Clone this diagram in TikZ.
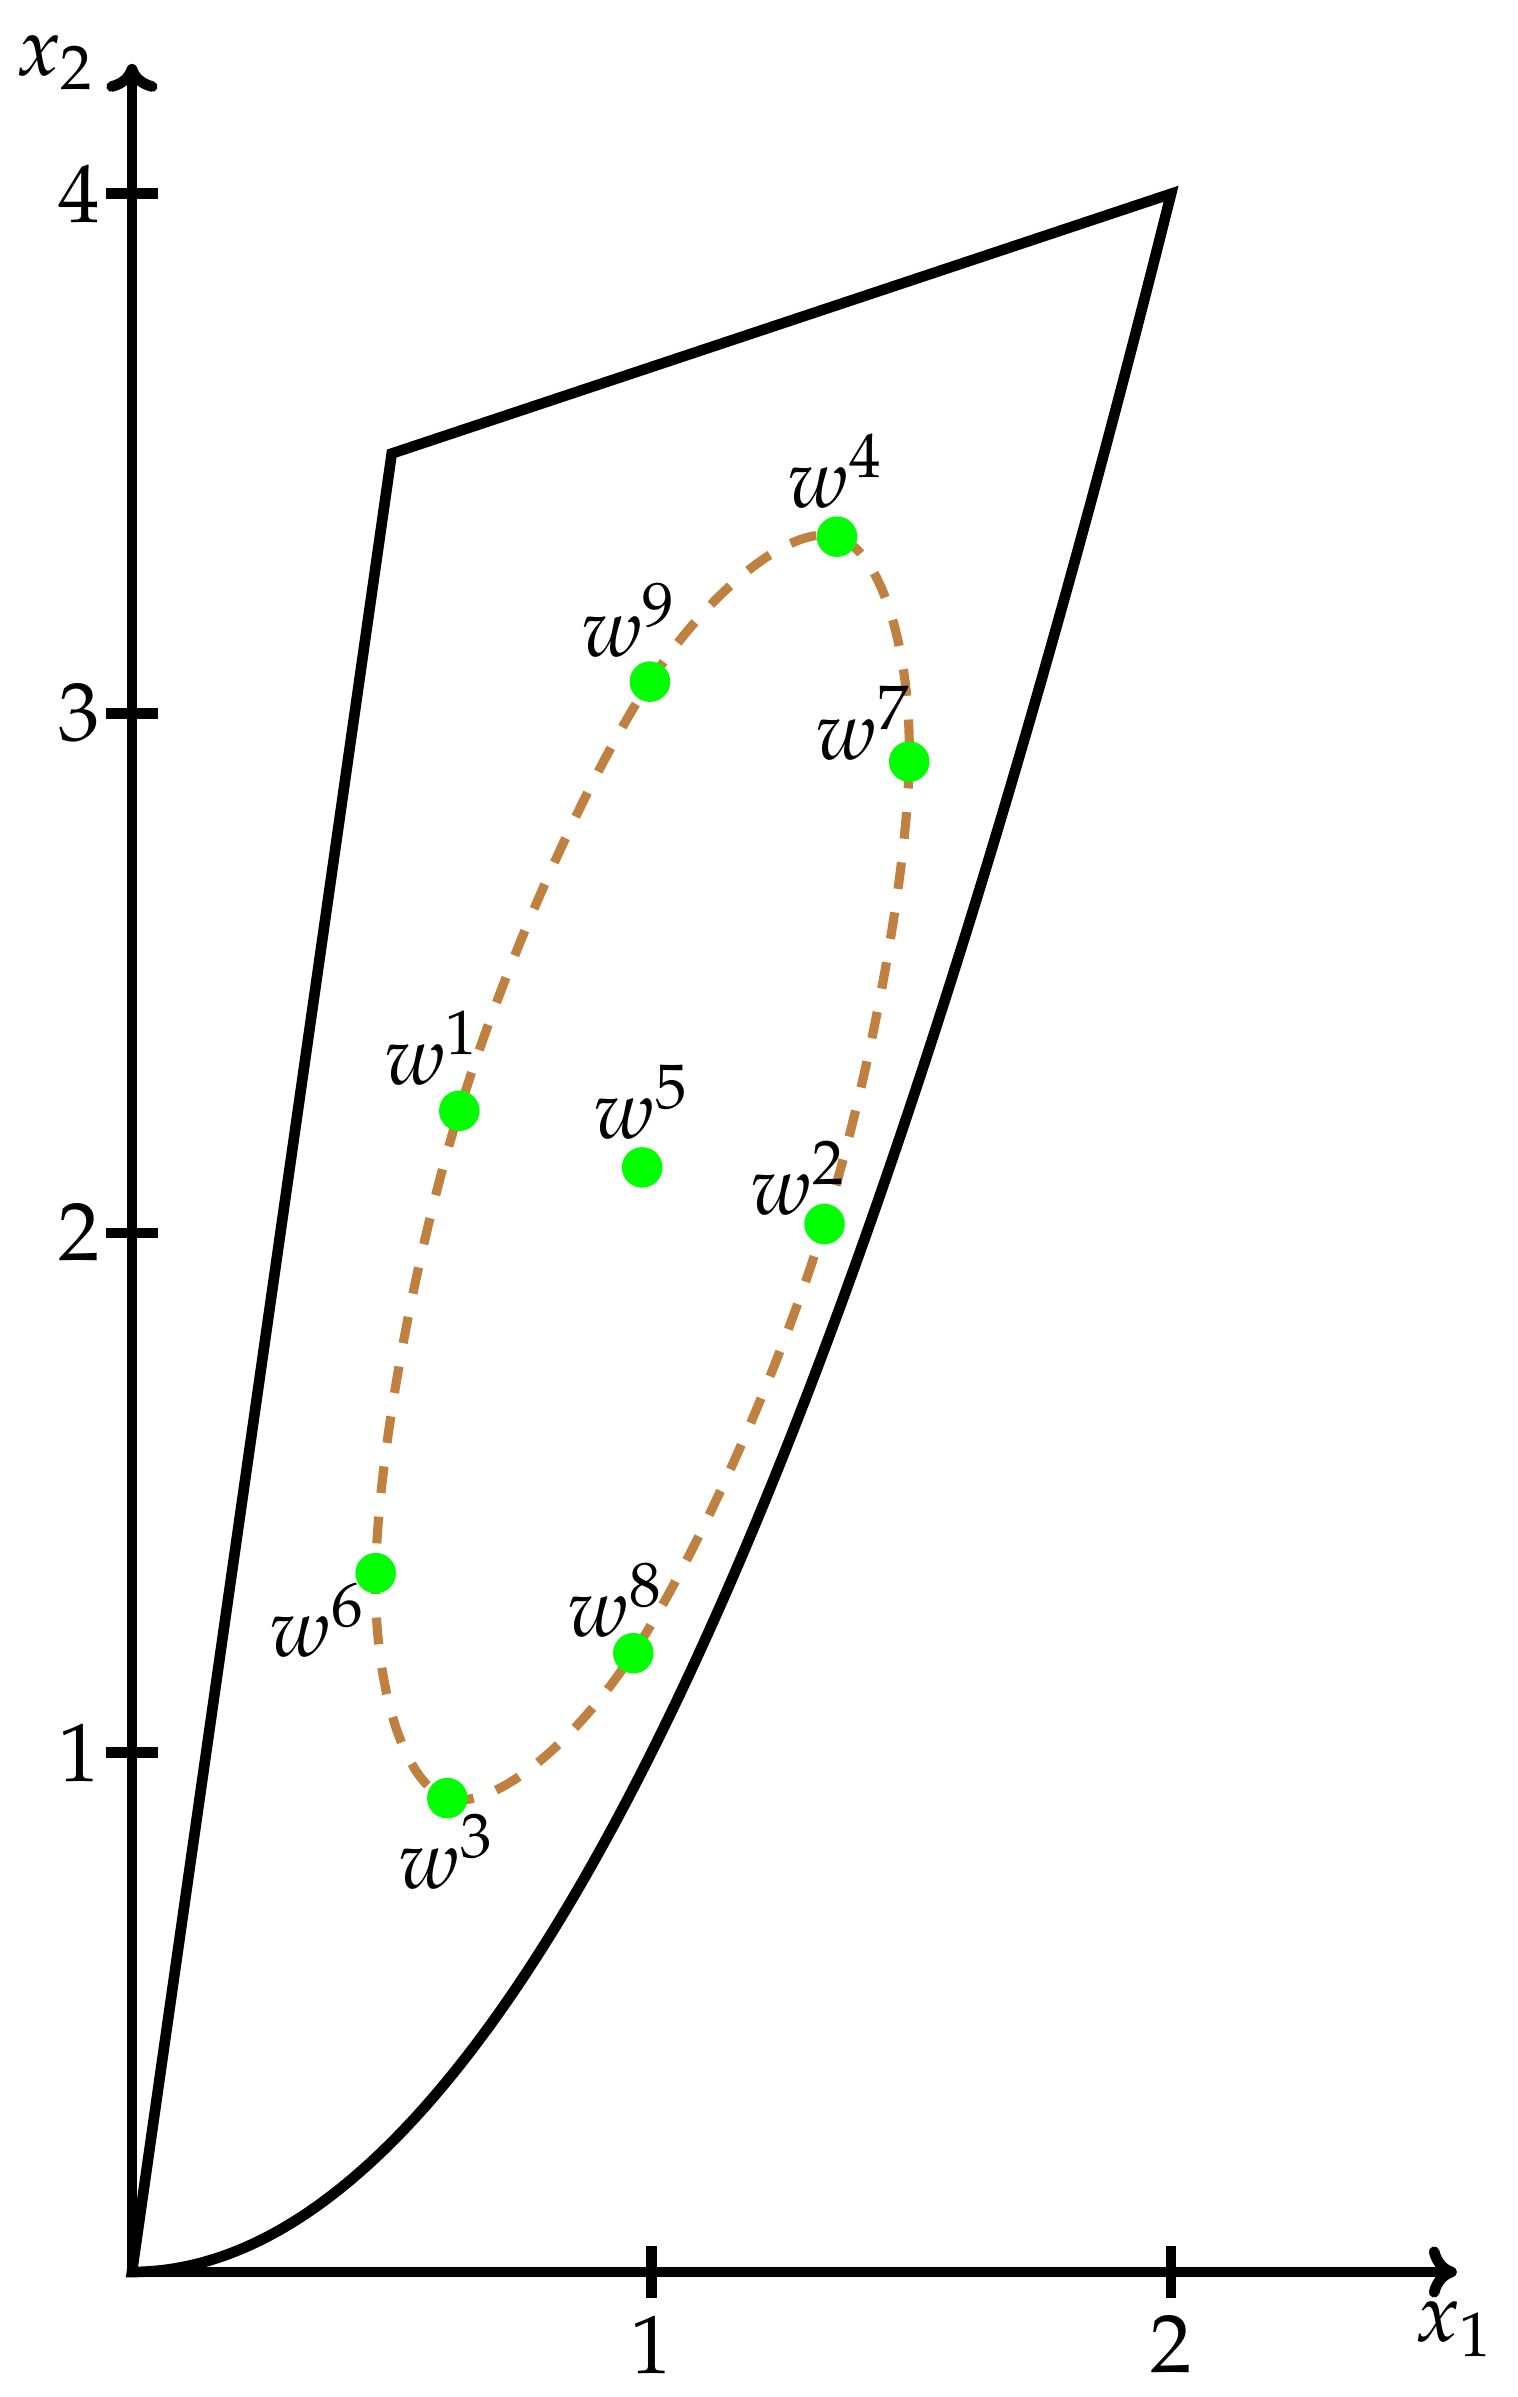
\documentclass[tikz,border=0pt]{standalone}
\usepackage[T1]{fontenc}
\usepackage{mathpazo}
\usetikzlibrary{arrows.meta}
\begin{document}
\begin{tikzpicture}[x=3cm,y=3cm,
  axis/.style={line width=1.75pt},
  tick/.style={line width=1.75pt},
  bnd/.style={line width=1.75pt, line join=miter},
  dot/.style={circle, fill=green, inner sep=0pt, minimum size=0.234cm},
  lbl/.style={font=\fontsize{13.6}{16}\selectfont, inner sep=0pt, anchor=base},
  num/.style={font=\fontsize{13.6}{16}\selectfont, inner sep=0pt},
  ell/.style={brown, line width=1.5pt, dash pattern=on 4.4pt off 3.9pt}]
\useasboundingbox (-0.254,-0.2406) rectangle (2.666,4.373);
% region
\coordinate (O) at (0,0);
\coordinate (A) at (0.5,3.5);
\coordinate (B) at (2,4);
\draw[bnd] (O) -- (A) -- (B) .. controls (1.33333,1.33333) and (0.66667,0) .. cycle;
% axes
\coordinate (xend) at (2.55,0);
\coordinate (yend) at (0,4.25);
\draw[axis,-{To[length=4.6pt,width=8.4pt]}] (O) -- (xend);
\draw[axis,-{To[length=4.6pt,width=8.4pt]}] (O) -- (yend);
\foreach \i in {1,2} {
  \draw[tick] (\i,-0.05) -- (\i,0.05);
  \node[num, anchor=north] (xt\i) at ([yshift=-2.7pt]\i,-0.05) {$\i$};
}
\foreach \i in {1,2,3,4} {
  \draw[tick] (-0.05,\i) -- (0.05,\i);
  \node[num, anchor=east] (yt\i) at ([xshift=-0.8pt]-0.05,\i) {$\i$};
}
\node[num, anchor=north] (xlab) at ([yshift=-4.6pt]2.546,0) {$x_1$};
\node[num, anchor=east] (ylab) at (-0.068,4.252) {$x_2$};
% points
\coordinate (p1) at (0.630,2.235);
\coordinate (p2) at (1.333,2.017);
\coordinate (p3) at (0.607,0.912);
\coordinate (p4) at (1.357,3.340);
\coordinate (p5) at (0.982,2.126);
\coordinate (p6) at (0.469,1.345);
\coordinate (p7) at (1.496,2.907);
\coordinate (p8) at (0.965,1.191);
\coordinate (p9) at (0.997,3.061);
\draw[ell] plot[smooth cycle, tension=0.6] coordinates {(p4) (p7) (p2) (p8) (p3) (p6) (p1) (p9)};
\foreach \i in {1,...,9} { \node[dot] (w\i) at (p\i) {}; }
% labels
\node[lbl] (l1) at (0.578,2.285) {$w^1$};
\node[lbl] (l2) at (1.283,2.035) {$w^2$};
\node[lbl] (l3) at (0.606,0.739) {$w^3$};
\node[lbl] (l4) at (1.355,3.396) {$w^4$};
\node[lbl] (l5) at (0.981,2.182) {$w^5$};
\node[lbl] (l6) at (0.357,1.184) {$w^6$};
\node[lbl] (l7) at (1.408,2.911) {$w^7$};
\node[lbl] (l8) at (0.931,1.223) {$w^8$};
\node[lbl] (l9) at (0.957,3.109) {$w^9$};
\end{tikzpicture}
\end{document}
